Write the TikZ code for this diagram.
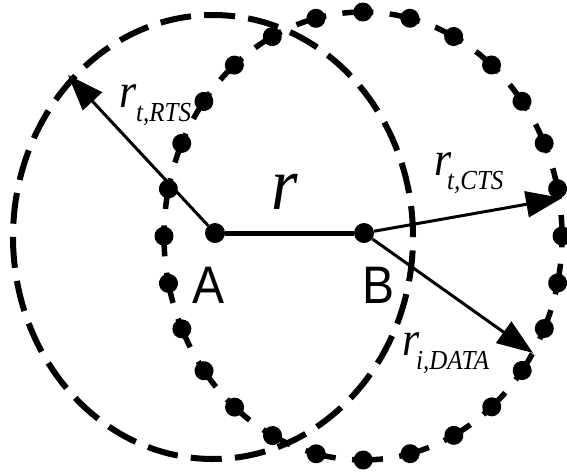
\documentclass[tikz,border=0pt]{standalone}
\usepackage{fontspec}
\setmainfont{Liberation Serif}
\setsansfont{Liberation Sans}
\usetikzlibrary{arrows.meta,decorations.markings}
\newcommand{\vs}[1]{\scalebox{1}[1.1]{#1}}
\begin{document}
\begin{tikzpicture}[x=1pt,y=-1pt,
  rangeA/.style={line width=6pt, dash pattern=on 31pt off 13.22pt},
  rangeB/.style={line width=5.5pt, dash pattern=on 31pt off 16.46pt, dash phase=10pt},
  dotsB/.style={postaction={decorate,decoration={markings,
      mark=between positions 0 and 0.99 step 0.0357142 with {\fill (0pt,0pt) circle (9.5pt);}}}},
  ctr/.style={circle, fill=black, inner sep=0pt, minimum size=20pt},
  ray/.style={line width=3pt, -{Triangle[length=36pt,width=26pt]}},
  link/.style={line width=5pt},
  lbl/.style={anchor=base west, inner sep=0pt, outer sep=0pt},
]
\useasboundingbox (0,0) rectangle (567,472);
% ranges
\draw[rangeA] (213,237) ellipse [x radius=200pt, y radius=222pt];
\draw[rangeB, dotsB] (363,236) ellipse [x radius=199pt, y radius=224pt];
% stations
\node[ctr] (A) at (215,233) {};
\node[ctr] (B) at (364,233) {};
\coordinate (pRTS) at (68,75);
\coordinate (pCTS) at (562,198);
\coordinate (pDATA) at (533,353);
\draw[link] (A) -- (B);
\draw[ray] (A) -- (pRTS);
\draw[ray] (B) -- (pCTS);
\draw[ray] (B) -- (pDATA);
% labels
\node[lbl] (lRTS) at (119,107) {\vs{\fontsize{44}{44}\selectfont\itshape r\raisebox{-13.5pt}{\fontsize{25}{25}\selectfont t,RTS}}};
\node[lbl] (lCTS) at (434,175) {\vs{\fontsize{44}{44}\selectfont\itshape r\kern-4pt\raisebox{-13.5pt}{\fontsize{25}{25}\selectfont t,CTS}}};
\node[lbl] (lDATA) at (402,355) {\vs{\fontsize{44}{44}\selectfont\itshape r\kern-3pt\raisebox{-13.5pt}{\fontsize{25}{25}\selectfont i,DATA}}};
\node[lbl] (lr) at (271,209) {\vs{\fontsize{68}{68}\selectfont\itshape r}};
\node[lbl] (lA) at (192,303) {\vs{\fontsize{48}{48}\selectfont\sffamily A}};
\node[lbl] (lB) at (362,303) {\vs{\fontsize{48}{48}\selectfont\sffamily B}};
\end{tikzpicture}
\end{document}
